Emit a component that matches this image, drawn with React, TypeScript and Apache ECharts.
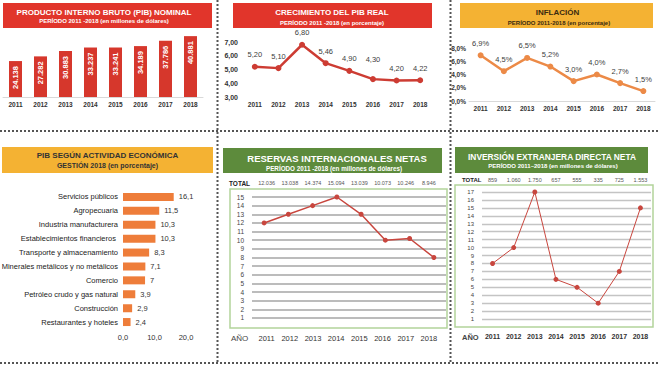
import React, { useEffect, useRef } from "react";
import * as echarts from "echarts";

const years = ["2011", "2012", "2013", "2014", "2015", "2016", "2017", "2018"];
const pibNominal = [24138, 27282, 30883, 33237, 33241, 34189, 37786, 40881];
const pibReal = [5.2, 5.1, 6.8, 5.46, 4.9, 4.3, 4.2, 4.22];
const inflacion = [6.9, 4.5, 6.5, 5.2, 3.0, 4.0, 2.7, 1.5];
const actividades = [
  "Servicios públicos",
  "Agropecuaria",
  "Industria manufacturera",
  "Establecimientos financieros ",
  "Transporte y almacenamiento",
  "Minerales metálicos y no metálicos",
  "Comercio",
  "Petróleo crudo y gas natural",
  "Construcción",
  "Restaurantes y hoteles",
];
const actividadValores = [16.1, 11.5, 10.3, 10.3, 8.3, 7.1, 7, 3.9, 2.9, 2.4];
const actividadEtiquetas = ["16,1", "11,5", "10,3", "10,3", "8,3", "7,1", "7", "3,9", "2,9", "2,4"];
const reservasTotal = ["12.036", "13.038", "14.374", "15.094", "13.039", "10.073", "10.246", "8.946"];
const reservasPuntos = [12, 13, 14, 15, 13, 10, 10.2, 8];
const iedTotal = ["859", "1.060", "1.750", "657", "555", "335", "725", "1.553"];
const iedPuntos = [8, 10, 17, 6, 5, 3, 7, 15];

const FONT = "Liberation Sans, Arial, sans-serif";
const RED_BOX = "#E1352B";
const ORANGE_BOX = "#F4B233";
const GREEN_BOX = "#5D8B3C";

const thousands = (v: number) => String(v).replace(/\B(?=(\d{3})+(?!\d))/g, ".");
const comma = (v: number, d: number) => v.toFixed(d).replace(".", ",");

function dotted(x1: number, y1: number, x2: number, y2: number) {
  return {
    type: "line",
    shape: { x1, y1, x2, y2 },
    style: { stroke: "#555", lineWidth: 2, lineDash: [2, 2] },
    silent: true,
  };
}
function box(x: number, y: number, w: number, h: number, fill: string) {
  return { type: "rect", shape: { x, y, width: w, height: h }, style: { fill }, silent: true };
}
function txt(x: number, y: number, text: string, size: number, color: string, weight = "bold", align = "center") {
  return {
    type: "text",
    x,
    y,
    style: { text, fontSize: size, fill: color, fontWeight: weight, fontFamily: FONT, align, verticalAlign: "middle" },
    silent: true,
  };
}

export default function App() {
  const ref = useRef<HTMLDivElement>(null);
  useEffect(() => {
    if (!ref.current) return;
    const chart = echarts.init(ref.current, undefined, { renderer: "svg" });
    const catAxisBase = {
      type: "category",
      data: years,
      axisTick: { show: false },
      axisLine: { show: true, lineStyle: { color: "#d9d9d9", width: 1 } },
    };
    const g = (left: number, top: number, width: number, height: number) => ({
      left,
      top,
      width,
      height,
      containLabel: false,
      outerBoundsMode: "none",
    });
    const option: any = {
      animation: false,
      backgroundColor: "#ffffff",
      textStyle: { fontFamily: FONT },
      grid: [
        g(3, 30, 200, 67),
        g(243, 42, 189, 55),
        g(469, 48, 186, 53),
        g(123, 190, 63, 139),
        g(252, 197, 194, 129.6),
        g(255, 189, 185.5, 140),
        g(482, 192, 169, 135),
      ],
      xAxis: [
        {
          ...catAxisBase,
          gridIndex: 0,
          axisLabel: { interval: 0, fontSize: 6.5, fontWeight: "bold", color: "#333", margin: 4, fontFamily: FONT },
        },
        {
          ...catAxisBase,
          gridIndex: 1,
          axisLine: { show: false },
          axisLabel: { interval: 0, fontSize: 6.5, fontWeight: "bold", color: "#333", margin: 4, fontFamily: FONT },
        },
        {
          ...catAxisBase,
          gridIndex: 2,
          axisLabel: { interval: 0, fontSize: 6.5, fontWeight: "bold", color: "#333", margin: 4, fontFamily: FONT },
        },
        {
          type: "value",
          gridIndex: 3,
          min: 0,
          max: 20,
          interval: 10,
          axisLine: { show: false },
          axisTick: { show: false },
          splitLine: { show: false },
          axisLabel: { fontSize: 7.5, color: "#333", margin: 4, formatter: (v: number) => comma(v, 1), fontFamily: FONT },
        },
        { type: "category", data: years, gridIndex: 4, show: false },
        {
          type: "category",
          data: years,
          gridIndex: 5,
          position: "bottom",
          axisLine: { show: false },
          axisTick: { show: false },
          axisLabel: { interval: 0, fontSize: 7.5, color: "#333", margin: 5, fontFamily: FONT },
        },
        {
          type: "category",
          data: reservasTotal,
          gridIndex: 5,
          position: "top",
          axisLine: { show: false },
          axisTick: { show: false },
          axisLabel: { interval: 0, fontSize: 5.5, color: "#555", margin: 3, fontFamily: FONT },
        },
        {
          type: "category",
          data: years,
          gridIndex: 6,
          position: "bottom",
          axisLine: { show: false },
          axisTick: { show: false },
          axisLabel: { interval: 0, fontSize: 7, color: "#333", margin: 6, fontWeight: "bold", fontFamily: FONT },
        },
        {
          type: "category",
          data: iedTotal,
          gridIndex: 6,
          position: "top",
          axisLine: { show: false },
          axisTick: { show: false },
          axisLabel: { interval: 0, fontSize: 5.5, color: "#555", margin: 9, fontFamily: FONT },
        },
      ],
      yAxis: [
        { type: "value", gridIndex: 0, min: 0, max: 45000, show: false },
        {
          type: "value",
          gridIndex: 1,
          min: 3,
          max: 7,
          interval: 1,
          axisLine: { show: false },
          axisTick: { show: false },
          splitLine: { show: false },
          axisLabel: { fontSize: 7, fontWeight: "bold", color: "#333", margin: 5, formatter: (v: number) => comma(v, 2), fontFamily: FONT },
        },
        {
          type: "value",
          gridIndex: 2,
          min: 0,
          max: 8,
          interval: 2,
          axisLine: { show: false },
          axisTick: { show: false },
          splitLine: { show: false },
          axisLabel: { fontSize: 6.5, fontWeight: "bold", color: "#333", margin: 3, formatter: (v: number) => comma(v, 1) + "%", fontFamily: FONT },
        },
        {
          type: "category",
          gridIndex: 3,
          data: actividades,
          inverse: true,
          axisLine: { show: false },
          axisTick: { show: false },
          axisLabel: { interval: 0, fontSize: 7.5, color: "#222", margin: 5, fontFamily: FONT },
        },
        {
          type: "value",
          gridIndex: 4,
          min: 0,
          max: 15,
          interval: 1,
          axisLine: { show: false },
          axisTick: { show: false },
          splitLine: { show: true, showMinLine: false, lineStyle: { color: "#a6a6a6", width: 1.6 } },
          axisLabel: { fontSize: 6.5, color: "#444", margin: 8, showMinLabel: false, fontFamily: FONT },
        },
        { type: "value", gridIndex: 5, show: false },
        {
          type: "value",
          gridIndex: 6,
          min: 0,
          max: 17,
          interval: 1,
          axisLine: { show: false },
          axisTick: { show: false },
          splitLine: { show: true, showMinLine: false, lineStyle: { color: "#c4c4c4", width: 1.4 } },
          axisLabel: { fontSize: 6, color: "#444", margin: 8, showMinLabel: false, fontFamily: FONT },
        },
      ],
      series: [
        {
          type: "bar",
          xAxisIndex: 0,
          yAxisIndex: 0,
          data: pibNominal,
          barWidth: 13,
          itemStyle: { color: "#D6372C" },
          label: {
            show: true,
            position: "insideTop",
            rotate: 90,
            align: "right",
            verticalAlign: "middle",
            distance: 5,
            color: "#fff",
            fontWeight: "bold",
            fontSize: 7.5,
            fontFamily: FONT,
            formatter: (p: any) => thousands(p.value),
          },
        },
        {
          type: "line",
          xAxisIndex: 1,
          yAxisIndex: 1,
          data: pibReal.map((v, i) => (i === 5 ? { value: v, label: { offset: [0, -8] } } : v)),
          lineStyle: { color: "#CD3C33", width: 2.5 },
          itemStyle: { color: "#CD3C33" },
          symbol: "circle",
          symbolSize: 6,
          label: {
            show: true,
            position: "top",
            distance: 5,
            fontSize: 7.5,
            color: "#404040",
            fontFamily: FONT,
            formatter: (p: any) => comma(p.value, 2),
          },
        },
        {
          type: "line",
          xAxisIndex: 2,
          yAxisIndex: 2,
          data: inflacion,
          lineStyle: { color: "#EC8A47", width: 2.5 },
          itemStyle: { color: "#EC8A47" },
          symbol: "circle",
          symbolSize: 6,
          label: {
            show: true,
            position: "top",
            distance: 5,
            fontSize: 7.5,
            color: "#404040",
            fontFamily: FONT,
            formatter: (p: any) => comma(p.value, 1) + "%",
          },
        },
        {
          type: "bar",
          xAxisIndex: 3,
          yAxisIndex: 3,
          data: actividadValores,
          barWidth: 8,
          itemStyle: { color: "#EE7D3A" },
          label: {
            show: true,
            position: "right",
            distance: 5,
            fontSize: 7.5,
            color: "#333",
            fontFamily: FONT,
            formatter: (p: any) => actividadEtiquetas[p.dataIndex],
          },
        },
        {
          type: "line",
          xAxisIndex: 4,
          yAxisIndex: 4,
          data: reservasPuntos,
          lineStyle: { color: "#C8463E", width: 1.5 },
          itemStyle: { color: "#C8463E" },
          symbol: "circle",
          symbolSize: 5,
        },
        {
          type: "line",
          xAxisIndex: 7,
          yAxisIndex: 6,
          data: iedPuntos,
          lineStyle: { color: "#C8463E", width: 1 },
          itemStyle: { color: "#C8463E" },
          symbol: "circle",
          symbolSize: 5,
        },
      ],
      graphic: [
        dotted(0, 131, 660, 131),
        dotted(0, 363, 660, 363),
        dotted(217.5, 0, 217.5, 363),
        dotted(450.5, 0, 450.5, 363),
        {
          type: "rect",
          shape: { x: 230, y: 189, width: 217, height: 139 },
          style: { fill: "none", stroke: "#B2D49A", lineWidth: 1.5 },
          silent: true,
          z: -1,
        },
        {
          type: "rect",
          shape: { x: 455, y: 185, width: 198, height: 142 },
          style: { fill: "none", stroke: "#B2D49A", lineWidth: 1.5 },
          silent: true,
          z: -1,
        },
        box(3, 3, 209, 25, RED_BOX),
        box(233, 3, 199, 25, RED_BOX),
        box(460, 3, 193, 25, ORANGE_BOX),
        box(2, 147, 211, 26, ORANGE_BOX),
        box(223, 148, 219, 25, GREEN_BOX),
        box(455, 147, 193, 26, GREEN_BOX),
        txt(104, 12.5, "PRODUCTO INTERNO BRUTO (PIB) NOMINAL", 8, "#fff"),
        txt(104, 21, "PERÍODO 2011 -2018 (en millones de dólares)", 6, "#fff"),
        txt(332, 12, "CRECIMIENTO DEL PIB REAL", 8, "#fff"),
        txt(332, 22.5, "PERÍODO 2011 -2018 (en porcentaje)", 6, "#fff"),
        txt(557.5, 12.5, "INFLACIÓN", 8, "#3a2a10"),
        txt(559, 22.5, "PERÍODO 2011-2018 (en porcentaje)", 6, "#3a2a10"),
        txt(107.5, 155.5, "PIB SEGÚN ACTIVIDAD ECONÓMICA", 8, "#333"),
        txt(107.5, 165.5, "GESTIÓN 2018 (en porcentaje)", 7, "#333"),
        txt(337, 158, "RESERVAS INTERNACIONALES NETAS", 9.5, "#fff"),
        txt(334, 168, "PERÍODO 2011 -2018 (en millones de dólares)", 6.3, "#fff"),
        txt(552, 156.5, "INVERSIÓN EXTRANJERA DIRECTA NETA", 8.4, "#fff"),
        txt(553, 165.5, "PERÍODO 2011–2018 (en millones de dólares)", 6, "#fff"),
        txt(229, 183, "TOTAL", 6.5, "#222", "bold", "left"),
        txt(462, 180, "TOTAL", 6, "#222", "bold", "left"),
        txt(231, 338, "AÑO", 8, "#444", "normal", "left"),
        txt(462, 337, "AÑO", 7.5, "#444", "bold", "left"),
      ],
    };
    chart.setOption(option);
    return () => chart.dispose();
  }, []);
  return (
    <div
      ref={ref}
      style={{ position: "absolute", left: 0, top: 0, width: 662, height: 367, background: "#fff" }}
    />
  );
}
